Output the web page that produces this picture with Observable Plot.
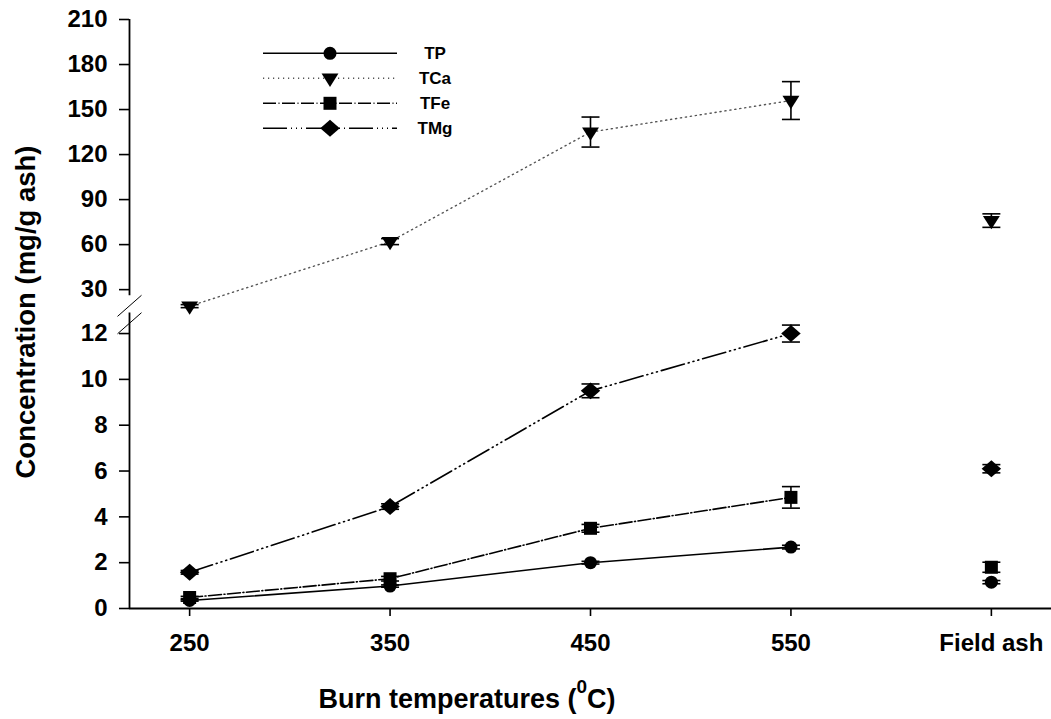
<!DOCTYPE html>
<html><head><meta charset="utf-8">
<script src="https://cdn.jsdelivr.net/npm/d3@7"></script>
<script src="https://cdn.jsdelivr.net/npm/@observablehq/plot@0.6"></script>
<style>
body{margin:0;background:#fff;}
#chart{position:relative;width:1051px;height:719px;}
</style>
</head><body><div id="chart"></div>
<script>
// ---- data ----
const categories = ["250", "350", "450", "550", "Field ash"];
const series = ["TP", "TCa", "TFe", "TMg"];
const tpMean  = [0.35, 0.98, 2.0, 2.68, 1.15];
const tpErr   = [0.03, 0.05, 0.06, 0.08, 0.07];
const tcaMean = [19, 62, 135, 156, 76];
const tcaErr  = [1.0, 2.0, 10.0, 12.6, 4.5];
const tfeMean = [0.48, 1.3, 3.5, 4.85, 1.8];
const tfeErr  = [0.05, 0.1, 0.17, 0.47, 0.22];
const tmgMean = [1.58, 4.45, 9.5, 12.0, 6.1];
const tmgErr  = [0.08, 0.12, 0.3, 0.37, 0.18];
const yTicksLow  = [0, 2, 4, 6, 8, 10, 12];
const yTicksHigh = [30, 60, 90, 120, 150, 180, 210];

const means = [tpMean, tcaMean, tfeMean, tmgMean];
const errs  = [tpErr, tcaErr, tfeErr, tmgErr];

// ---- broken axis mapping (lower 0–12.9 linear, upper segment compressed) ----
const LOW_TOP = 12.9, HIGH_BOTTOM = 26;
const HIGH_ORIGIN = 13.917, HIGH_K = 0.0655; // virtual position of 30 and per-unit step
function warp(v) { return v <= 13 ? v : HIGH_ORIGIN + HIGH_K * (v - 30); }
const highLabel = new Map(yTicksHigh.map(t => [warp(t), String(t)]));

const rows = series.flatMap((s, si) => categories.map((c, i) => ({
  series: s, xi: i, mean: means[si][i], err: errs[si][i]
})));

// ---- symbols ----
const R = (size) => Math.sqrt(size / Math.PI);
const symCircle = {draw(ctx, size){ const r = R(size); ctx.moveTo(r, 0); ctx.arc(0, 0, r, 0, 2*Math.PI); }};
const symTriDown = {draw(ctx, size){ const r = R(size); ctx.moveTo(-1.3*r, -0.72*r); ctx.lineTo(1.3*r, -0.72*r); ctx.lineTo(0, 1.34*r); ctx.closePath(); }};
const symSquare = {draw(ctx, size){ const r = R(size); ctx.rect(-r, -r, 2*r, 2*r); }};
const symDiamond = {draw(ctx, size){ const r = R(size); ctx.moveTo(-1.5*r, 0); ctx.lineTo(0, -1.3*r); ctx.lineTo(1.5*r, 0); ctx.lineTo(0, 1.3*r); ctx.closePath(); }};
const symCap = {draw(ctx, size){ const r = R(size); ctx.moveTo(-r, 0); ctx.lineTo(r, 0); }};
const symSlash = {draw(ctx, size){ const r = R(size); ctx.moveTo(-r, 0.88*r); ctx.lineTo(r, -0.88*r); }};

const styles = {
  TP:  {symbol: symCircle,  dash: null,                 stroke: "#000", width: 1.6},
  TCa: {symbol: symTriDown, dash: "1.2,3.8",            stroke: "#555", width: 1.4},
  TFe: {symbol: symSquare,  dash: "13,2.5,1,2.5",       stroke: "#000", width: 1.6},
  TMg: {symbol: symDiamond, dash: "24,4,1,4,1,4,1,4",   stroke: "#000", width: 1.6}
};

const FONT = "'Liberation Sans', Arial, sans-serif";
const marks = [];
// axis lines (broken y axis)
marks.push(Plot.ruleY([0], {stroke: "black", strokeWidth: 1.8}));
marks.push(Plot.ruleX([{y1: 0, y2: warp(LOW_TOP)}, {y1: warp(HIGH_BOTTOM), y2: warp(210)}],
  {x: () => -0.3, y1: "y1", y2: "y2", stroke: "black", strokeWidth: 1.8}));
marks.push(Plot.dot([12.45, 13.21], {x: () => -0.3, y: d => d, symbol: symSlash, r: 12, stroke: "black", strokeWidth: 1, fill: "none"}));
// axes
marks.push(Plot.axisX({ticks: categories.map((_, i) => i), tickFormat: i => categories[i], tickSize: 8, tickPadding: 17, label: null, strokeWidth: 1.6, fontSize: 24, fontWeight: "bold"}));
marks.push(Plot.axisY(yTicksLow, {tickSize: 10, tickPadding: 12, label: null, tickFormat: d => String(d), strokeWidth: 1.6, fontSize: 24, fontWeight: "bold"}));
marks.push(Plot.axisY(yTicksHigh.map(warp), {tickSize: 10, tickPadding: 12, label: null, tickFormat: d => highLabel.get(d), strokeWidth: 1.6, fontSize: 24, fontWeight: "bold"}));
// lines (temperatures only)
for (const s of series) {
  const st = styles[s];
  marks.push(Plot.line(rows.filter(d => d.series === s && d.xi < 4),
    {x: "xi", y: d => warp(d.mean), stroke: st.stroke, strokeWidth: st.width, strokeDasharray: st.dash}));
}
// error bars
marks.push(Plot.ruleX(rows, {x: "xi", y1: d => warp(d.mean - d.err), y2: d => warp(d.mean + d.err), stroke: "black", strokeWidth: 1.6}));
marks.push(Plot.dot(rows, {x: "xi", y: d => warp(d.mean + d.err), symbol: symCap, r: 9, stroke: "black", strokeWidth: 1.6, fill: "none"}));
marks.push(Plot.dot(rows, {x: "xi", y: d => warp(d.mean - d.err), symbol: symCap, r: 9, stroke: "black", strokeWidth: 1.6, fill: "none"}));
// markers
for (const s of series) {
  marks.push(Plot.dot(rows.filter(d => d.series === s), {x: "xi", y: d => warp(d.mean), symbol: styles[s].symbol, r: 6.5, fill: "black", stroke: "none"}));
}

const svg = Plot.plot({
  width: 1051, height: 719,
  marginLeft: 129, marginRight: 0, marginTop: 19, marginBottom: 111,
  x: {type: "linear", domain: [-0.3, 4.3], label: null},
  y: {type: "linear", domain: [0, warp(210)], label: null},
  style: {fontFamily: FONT, fontSize: "24px", fontWeight: "bold", color: "black", background: "white", overflow: "visible"},
  marks
});

const g = d3.select(svg);
// axis titles
const xt = g.append("text").attr("x", 467).attr("y", 708).attr("text-anchor", "middle")
  .attr("font-size", 27).attr("font-weight", "bold").attr("fill", "black").attr("font-family", FONT);
xt.append("tspan").text("Burn temperatures (");
xt.append("tspan").attr("font-size", 19).attr("dy", -15).text("0");
xt.append("tspan").attr("dy", 15).text("C)");
g.append("text").attr("transform", "translate(25,312) rotate(-90)").attr("text-anchor", "middle")
  .attr("dominant-baseline", "central").attr("font-size", 27.5).attr("font-weight", "bold").attr("fill", "black")
  .attr("font-family", FONT)
  .text("Concentration (mg/g ash)");
// legend
const leg = g.append("g").attr("font-family", FONT);
series.forEach((s, i) => {
  const y = 53.3 + 25 * i, st = styles[s];
  leg.append("line").attr("x1", 263).attr("x2", 397).attr("y1", y).attr("y2", y)
    .attr("stroke", st.stroke).attr("stroke-width", st.width).attr("stroke-dasharray", st.dash);
  leg.append("path").attr("transform", `translate(330,${y})`)
    .attr("d", d3.symbol(st.symbol, Math.PI * 6.5 * 6.5)()).attr("fill", "black");
  leg.append("text").attr("x", 435).attr("y", y).attr("dominant-baseline", "central")
    .attr("font-size", 17).attr("font-weight", "bold").attr("fill", "black").text(s);
});

document.getElementById("chart").appendChild(svg);
</script>
</body></html>
